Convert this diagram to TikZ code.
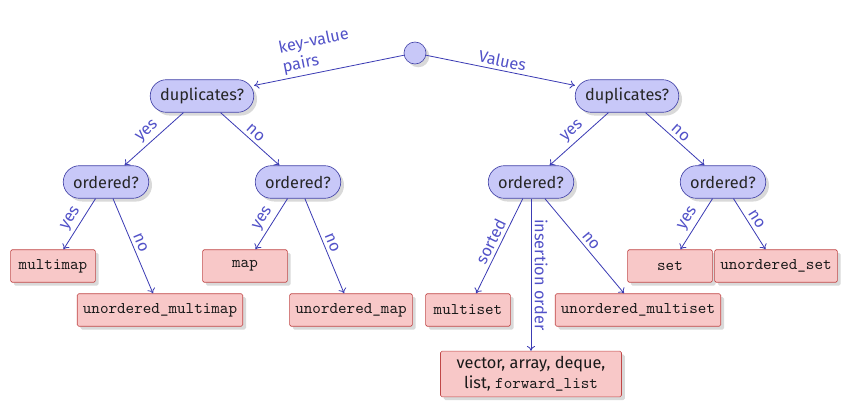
\documentclass[tikz,border=0pt]{standalone}
\usepackage{fontspec}
\setmainfont{Fira Sans}
\usetikzlibrary{shadows,arrows.meta}
\definecolor{qfill}{HTML}{C8C8F8}
\definecolor{qdraw}{HTML}{4444A8}
\definecolor{lfill}{HTML}{F8C8C8}
\definecolor{ldraw}{HTML}{C04848}
\definecolor{edgec}{HTML}{3C3CB4}
\definecolor{lblc}{HTML}{5252C8}
\begin{document}
\begin{tikzpicture}[x=0.613pt,y=-0.613pt,
  question/.style={draw=qdraw, fill=qfill, rounded corners=10pt, minimum width=52pt,
    minimum height=20pt, inner xsep=6pt, inner ysep=2pt, text=black!85, drop shadow={opacity=0.3, shadow xshift=2pt, shadow yshift=-2pt}},
  leaf/.style={draw=ldraw, fill=lfill, rounded corners=1pt, minimum width=52pt,
    minimum height=20pt, inner xsep=3.5pt, text=black!90, font=\ttfamily, drop shadow={opacity=0.3, shadow xshift=2pt, shadow yshift=-2pt}},
  rootc/.style={draw=qdraw, fill=qfill, circle, minimum size=13.5pt, inner sep=0pt, drop shadow={opacity=0.3, shadow xshift=2pt, shadow yshift=-2pt}},
  edge/.style={draw=edgec, -{To[length=3pt,width=5pt]}, line width=0.5pt},
  lbl/.style={text=lblc, font=\normalsize, inner sep=2pt}]
\useasboundingbox (0,0) rectangle (847,405);

\node[rootc] (root) at (415,53) {};
\node[question] (dupL) at (202,96) {duplicates?};
\node[question] (dupR) at (627,96) {duplicates?};
\node[question] (ordLL) at (106,182) {ordered?};
\node[question] (ordLR) at (298,182) {ordered?};
\node[question] (ordRL) at (531,182) {ordered?};
\node[question] (ordRR) at (723,182) {ordered?};

\node[leaf] (multimap) at (53,266) {multimap};
\node[leaf] (umultimap) at (160,310) {unordered\_multimap};
\node[leaf] (map) at (245,266) {map};
\node[leaf] (umap) at (351,310) {unordered\_map};
\node[leaf] (multiset) at (468,310) {multiset};
\node[leaf] (umultiset) at (638,310) {unordered\_multiset};
\node[leaf] (set) at (670,266) {set};
\node[leaf] (uset) at (776,266) {unordered\_set};
\node[leaf, font=\rmfamily, align=center, minimum width=111pt, minimum height=28pt, inner ysep=1pt] (seq) at (531,374) {vector, array, deque,\\list, \texttt{forward\_list}};

\draw[edge] (root) -- node[lbl, pos=0.56, above, sloped, align=left]{key-value\\pairs} (dupL);
\draw[edge] (root) -- node[lbl, midway, above, sloped]{Values} (dupR);

\draw[edge] (dupL) -- node[lbl, midway, above, sloped]{yes} (ordLL);
\draw[edge] (dupL) -- node[lbl, midway, above, sloped]{no} (ordLR);
\draw[edge] (dupR) -- node[lbl, midway, above, sloped]{yes} (ordRL);
\draw[edge] (dupR) -- node[lbl, midway, above, sloped]{no} (ordRR);

\draw[edge] (ordLL) -- node[lbl, midway, above, sloped]{yes} (multimap);
\draw[edge] (ordLL) -- node[lbl, midway, above, sloped]{no} (umultimap);
\draw[edge] (ordLR) -- node[lbl, midway, above, sloped]{yes} (map);
\draw[edge] (ordLR) -- node[lbl, midway, above, sloped]{no} (umap);

\draw[edge] (ordRL) -- node[lbl, midway, above, sloped]{sorted} (multiset);
\draw[edge] (ordRL) -- node[lbl, midway, above, sloped]{insertion order} (seq);
\draw[edge] (ordRL) -- node[lbl, midway, above, sloped]{no} (umultiset);
\draw[edge] (ordRR) -- node[lbl, midway, above, sloped]{yes} (set);
\draw[edge] (ordRR) -- node[lbl, midway, above, sloped]{no} (uset);
\end{tikzpicture}
\end{document}
